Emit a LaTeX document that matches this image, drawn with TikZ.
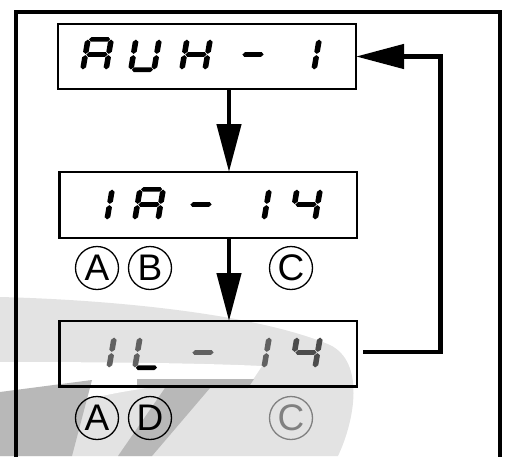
\documentclass[tikz,border=0pt]{standalone}
\usepackage{fontspec}
\setmainfont{Liberation Sans}
\usetikzlibrary{arrows.meta,calc}
\newcommand\hseg[3]{\fill (#1,#3) -- ({#1+2.2},{#3-2.3}) -- ({#2-2.2},{#3-2.3}) -- (#2,#3) -- ({#2-2.2},{#3+2.3}) -- ({#1+2.2},{#3+2.3}) -- cycle;}
\newcommand\vseg[3]{\fill (#1,#2) -- ({#1+2.8},{#2+2.2}) -- ({#1+2.8},{#3-2.2}) -- (#1,#3) -- ({#1-2.8},{#3-2.2}) -- ({#1-2.8},{#2+2.2}) -- cycle;}
\newcommand\sgA{\hseg{3.4}{24.6}{2.3}}
\newcommand\sgB{\vseg{25.6}{2.6}{16.9}}
\newcommand\sgC{\vseg{25.6}{18.1}{32.4}}
\newcommand\sgD{\hseg{3.4}{24.6}{32.7}}
\newcommand\sgE{\vseg{2.4}{18.1}{32.4}}
\newcommand\sgF{\vseg{2.4}{2.6}{16.9}}
\newcommand\sgG{\hseg{3.4}{24.6}{17.5}}
\newcommand\sdigit[4]{\begin{scope}[shift={(#1,#2)},xslant=0.17,fill=#4]
  \foreach \s in {#3}{\csname sg\s\endcsname}\end{scope}}
\begin{document}
\begin{tikzpicture}[x=1pt,y=-1pt,
  lcd/.style={draw,line width=2.2pt,minimum width=#1,inner sep=0pt,outer sep=0pt},
  arr/.style={line width=4.5pt,line join=miter,-{Triangle[length=48pt,width=24pt]}},
  circ/.style={circle,draw,line width=1.3pt,minimum size=43pt,inner sep=0pt,
    font=\fontsize{37}{37}\selectfont}]
\useasboundingbox (0,0) rectangle (509,456);
% watermark
\fill[black!11] (0,297) .. controls (120,300) and (260,315) .. (330,345)
  .. controls (365,362) and (355,420) .. (338,456) -- (0,456) -- cycle;
\fill[white] (0,362) .. controls (100,362) and (200,363) .. (262,366)
  -- (252,381) .. controls (150,381) and (60,400) .. (0,430) -- cycle;
\fill[black!28] (0,392) -- (92,380) -- (72,456) -- (0,456) -- cycle;
\fill[black!28] (137,379) -- (254,379) -- (248,388) -- (210,388) -- (152,456) -- (118,456) -- (165,388) -- (137,388) -- cycle;
% frame
\draw[line width=4pt] (16,470) -- (16,12) -- (500,12) -- (500,470);
% boxes
\node[lcd=298pt,minimum height=65pt] (b1) at (207,56.5) {};
\node[lcd=297.5pt,minimum height=66pt] (b2) at (208.25,205) {};
\node[lcd=297.5pt,minimum height=65.5pt] (b3) at (208.25,353.75) {};
% digits
\sdigit{86}{37}{A,B,C,E,F,G}{black}
\sdigit{134}{37}{B,C,D,E,F}{black}
\sdigit{185}{37}{B,C,E,F,G}{black}
\sdigit{242}{37}{G}{black}
\sdigit{294}{37}{B,C}{black}
\sdigit{87}{187}{B,C}{black}
\sdigit{138}{187}{A,B,C,E,F,G}{black}
\sdigit{190}{187}{G}{black}
\sdigit{244}{187}{B,C}{black}
\sdigit{295}{187}{B,C,F,G}{black}
\sdigit{89}{335}{B,C}{black!62}
\sdigit{138}{335}{E,F}{black!62}
\sdigit{138}{335}{D}{black}
\sdigit{192}{335}{G}{black!62}
\sdigit{244}{335}{B,C}{black!62}
\sdigit{295}{335}{B,C,F,G}{black!70}
% circled letters
\node[circ] (a1) at (97,268) {A};
\node[circ] (bb) at (150,268) {B};
\node[circ] (c1) at (291,268) {C};
\node[circ] (a2) at (97,418) {A};
\node[circ] (dd) at (150,418) {D};
\node[circ,draw=black!50,text=black!50] (c2) at (291,418) {C};
% connectors
\coordinate (ax) at (229,0);
\coordinate (fr) at (440.5,56.5);
\draw[arr] (b1.south -| ax) -- (b2.north -| ax);
\draw[arr] (b2.south -| ax) -- (b3.north -| ax);
\draw[arr] ([xshift=6pt,yshift=2pt]b3.east) -| (fr) -- (b1.east);
\end{tikzpicture}
\end{document}
